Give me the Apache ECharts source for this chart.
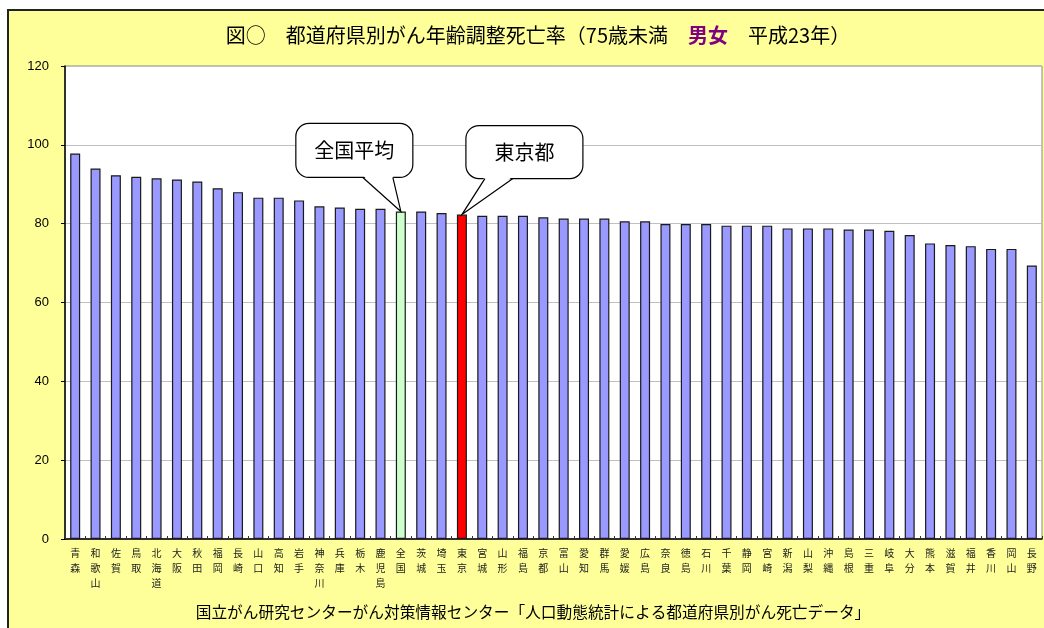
<!DOCTYPE html>
<html>
<head>
<meta charset="utf-8">
<script src="https://cdn.jsdelivr.net/npm/echarts@6/dist/echarts.min.js"></script>
<style>
  html, body { margin: 0; padding: 0; background: #ffffff; }
  #chart { width: 1044px; height: 628px; }
</style>
</head>
<body>
<div id="chart"></div>
<script>
// 都道府県（＋全国）の並び
const prefectures = [
  '青森', '和歌山', '佐賀', '鳥取', '北海道', '大阪', '秋田', '福岡', '長崎', '山口',
  '高知', '岩手', '神奈川', '兵庫', '栃木', '鹿児島', '全国', '茨城', '埼玉', '東京',
  '宮城', '山形', '福島', '京都', '富山', '愛知', '群馬', '愛媛', '広島', '奈良',
  '徳島', '石川', '千葉', '静岡', '宮崎', '新潟', '山梨', '沖縄', '島根', '三重',
  '岐阜', '大分', '熊本', '滋賀', '福井', '香川', '岡山', '長野'
];

// 年齢調整死亡率（75歳未満・男女・人口10万対）
const rates = [
  97.8, 94.0, 92.3, 91.9, 91.5, 91.2, 90.7, 89.0, 88.0, 86.6,
  86.6, 85.9, 84.4, 84.1, 83.8, 83.8, 83.1, 83.1, 82.7, 82.3,
  82.0, 82.0, 82.0, 81.6, 81.3, 81.3, 81.3, 80.6, 80.6, 79.9,
  79.9, 79.9, 79.5, 79.5, 79.5, 78.8, 78.8, 78.8, 78.5, 78.5,
  78.2, 77.1, 75.0, 74.6, 74.3, 73.6, 73.6, 69.4
];

// 縦軸の目盛
const yMin = 0;
const yMax = 120;
const yStep = 20;

// 強調する棒と吹き出し
const nationalKey = '全国';
const nationalLabel = '全国平均';
const tokyoKey = '東京';
const tokyoLabel = '東京都';

const titleMain1 = '図○　都道府県別がん年齢調整死亡率（75歳未満　';
const titleSex = '男女';
const titleMain2 = '　平成23年）';
const sourceText = '国立がん研究センターがん対策情報センター「人口動態統計による都道府県別がん死亡データ」';

const FONT = '"Noto Sans CJK JP", "Noto Sans", sans-serif';
const NUMFONT = '"Liberation Sans", Arial, sans-serif';

const BAR = '#9999FF';
const BAR_NATIONAL = '#CCFFCC';
const BAR_TOKYO = '#FF0000';

const chart = echarts.init(document.getElementById('chart'), null, { renderer: 'canvas' });

const barData = prefectures.map((name, i) => {
  let color = BAR;
  if (name === nationalKey) color = BAR_NATIONAL;
  if (name === tokyoKey) color = BAR_TOKYO;
  return { value: rates[i], itemStyle: { color: color } };
});

const baseGraphics = [
  // 外枠（黄色の背景）
  {
    type: 'rect', id: 'frame', z: -10,
    shape: { x: 8, y: 10, width: 1100, height: 700 },
    style: { fill: '#FFFF99', stroke: '#222222', lineWidth: 2 },
    silent: true
  },
  // 表題
  {
    type: 'text', id: 'title', z: 5,
    x: 538, y: 35,
    style: {
      text: '{a|' + titleMain1 + '}{b|' + titleSex + '}{a|' + titleMain2 + '}',
      align: 'center', verticalAlign: 'middle',
      rich: {
        a: { fontFamily: FONT, fontSize: 20, fill: '#000000' },
        b: { fontFamily: FONT, fontSize: 20, fill: '#800080', fontWeight: 'bold' }
      }
    },
    silent: true
  },
  // 出典
  {
    type: 'text', id: 'source', z: 5,
    x: 533, y: 612,
    style: {
      text: sourceText, fontFamily: FONT, fontSize: 15.7, fill: '#000000',
      align: 'center', verticalAlign: 'middle'
    },
    silent: true
  }
];

const option = {
  animation: false,
  backgroundColor: '#ffffff',
  grid: {
    left: 65, right: 2, top: 66, bottom: 89,
    show: true, backgroundColor: '#ffffff', borderColor: '#888888', borderWidth: 1,
    containLabel: false
  },
  xAxis: {
    type: 'category',
    data: prefectures,
    boundaryGap: true,
    axisLine: { show: true, lineStyle: { color: '#000000', width: 1.5 } },
    axisTick: { show: true, inside: true, length: 3, alignWithLabel: false, lineStyle: { color: '#333333' } },
    axisLabel: {
      interval: 0,
      margin: 7,
      fontFamily: FONT,
      fontSize: 10,
      lineHeight: 15,
      color: '#222222',
      formatter: (v) => v.split('').join('\n')
    }
  },
  yAxis: {
    type: 'value',
    min: yMin, max: yMax, interval: yStep,
    axisLine: { show: true, lineStyle: { color: '#000000', width: 1.5 } },
    axisTick: { show: true, inside: false, length: 4, lineStyle: { color: '#000000' } },
    axisLabel: { margin: 16, fontFamily: NUMFONT, fontSize: 13, color: '#000000' },
    splitLine: { show: true, lineStyle: { color: '#C0C0C0', width: 1 } }
  },
  series: [{
    type: 'bar',
    data: barData,
    barWidth: 10,
    itemStyle: { borderColor: '#1a1a1a', borderWidth: 1.2 }
  }],
  graphic: { elements: baseGraphics }
};

chart.setOption(option);

// 吹き出し：棒の先端位置から組み立てる
function callout(id, key, text, box, tailBase) {
  const idx = prefectures.indexOf(key);
  const tip = chart.convertToPixel({ seriesIndex: 0 }, [idx, rates[idx]]);
  const tx = tip[0], ty = tip[1];
  const x0 = tx + box[0], x1 = tx + box[1];
  const y0 = ty + box[2], y1 = ty + box[3];
  const b1 = tx + tailBase[0], b2 = tx + tailBase[1];
  return [
    {
      type: 'rect', id: id + '-box', z: 20,
      shape: { x: x0, y: y0, width: x1 - x0, height: y1 - y0, r: 13 },
      style: { fill: '#ffffff', stroke: '#000000', lineWidth: 1.2 },
      silent: true
    },
    {
      type: 'polygon', id: id + '-tailfill', z: 21,
      shape: { points: [[b1, y1 - 2], [b2, y1 - 2], [tx, ty]] },
      style: { fill: '#ffffff', stroke: null },
      silent: true
    },
    {
      type: 'polyline', id: id + '-tail', z: 22,
      shape: { points: [[b1, y1], [tx, ty], [b2, y1]] },
      style: { fill: null, stroke: '#000000', lineWidth: 1.2 },
      silent: true
    },
    {
      type: 'text', id: id + '-text', z: 23,
      x: (x0 + x1) / 2, y: (y0 + y1) / 2,
      style: {
        text: text, fontFamily: FONT, fontSize: 20, fill: '#000000',
        align: 'center', verticalAlign: 'middle'
      },
      silent: true
    }
  ];
}

const callouts = []
  .concat(callout('national', nationalKey, nationalLabel, [-105, 12, -88, -34], [-38, -8]))
  .concat(callout('tokyo', tokyoKey, tokyoLabel, [4, 121, -89, -36], [23, 51]));

chart.setOption({ graphic: { elements: baseGraphics.concat(callouts) } });
</script>
</body>
</html>
